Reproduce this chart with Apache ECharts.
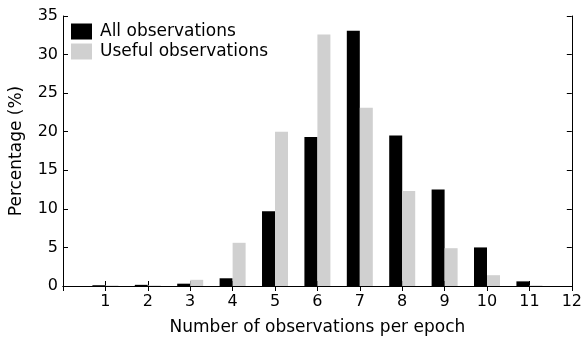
<!DOCTYPE html>
<html>
<head>
<meta charset="utf-8">
<script src="https://cdn.jsdelivr.net/npm/echarts@6/dist/echarts.min.js"></script>
<style>
html, body { margin: 0; padding: 0; background: #fff; }
#chart { width: 585px; height: 341px; }
</style>
</head>
<body>
<div id="chart"></div>
<script>
// number of observations per epoch (0 only marks the axis start)
var categories = ['0', '1', '2', '3', '4', '5', '6', '7', '8', '9', '10', '11', '12'];
var allObs = [null, 0.1, 0.15, 0.3, 1.0, 9.7, 19.3, 33.1, 19.5, 12.5, 5.0, 0.6, null];
var usefulObs = [null, 0.08, 0.08, 0.8, 5.6, 20.0, 32.6, 23.1, 12.3, 4.9, 1.4, 0.08, null];
var yTicks = [0, 5, 10, 15, 20, 25, 30, 35];

var font = 'DejaVu Sans, Arial, sans-serif';
var chart = echarts.init(document.getElementById('chart'));

var axisLine = { show: true, lineStyle: { color: '#000', width: 1 } };
var tickIn = { show: true, inside: true, length: 5, lineStyle: { color: '#000' } };

var option = {
    backgroundColor: '#fff',
    animation: false,
    grid: { left: 63, right: 9, top: 16, bottom: 54 },
    legend: {
        left: 66,
        top: 18,
        orient: 'vertical',
        itemWidth: 21,
        itemHeight: 16,
        itemGap: 3,
        icon: 'rect',
        textStyle: { fontFamily: font, fontSize: 17, lineHeight: 17, color: '#000', padding: [0, 0, 0, 3] },
        data: ['All observations', 'Useful observations']
    },
    xAxis: [
        {
            type: 'category',
            data: categories,
            boundaryGap: false,
            name: 'Number of observations per epoch',
            nameLocation: 'middle',
            nameGap: 33,
            nameTextStyle: { fontFamily: font, fontSize: 17, color: '#000' },
            axisLine: axisLine,
            axisTick: { show: true, inside: true, length: 5, interval: 0, lineStyle: { color: '#000' } },
            axisLabel: {
                fontFamily: font, fontSize: 16, color: '#000', margin: 8, interval: 0,
                formatter: function (v) { return v === '0' ? '' : v; }
            },
            splitLine: { show: false }
        },
        {
            type: 'category',
            data: categories,
            boundaryGap: false,
            position: 'top',
            axisLine: axisLine,
            axisTick: { show: true, inside: true, length: 5, interval: 0, lineStyle: { color: '#000' } },
            axisLabel: { show: false },
            splitLine: { show: false }
        }
    ],
    yAxis: [
        {
            type: 'value',
            min: yTicks[0],
            max: yTicks[yTicks.length - 1],
            interval: 5,
            name: 'Percentage (%)',
            nameLocation: 'middle',
            nameGap: 38,
            nameTextStyle: { fontFamily: font, fontSize: 17, color: '#000' },
            axisLine: axisLine,
            axisTick: tickIn,
            axisLabel: { fontFamily: font, fontSize: 16, color: '#000', margin: 5 },
            splitLine: { show: false }
        },
        {
            type: 'value',
            min: yTicks[0],
            max: yTicks[yTicks.length - 1],
            interval: 5,
            position: 'right',
            axisLine: axisLine,
            axisTick: tickIn,
            axisLabel: { show: false },
            splitLine: { show: false }
        }
    ],
    series: [
        {
            name: 'All observations',
            type: 'bar',
            data: allObs,
            barWidth: 13,
            barGap: '0%',
            itemStyle: { color: '#000' }
        },
        {
            name: 'Useful observations',
            type: 'bar',
            data: usefulObs,
            barWidth: 13,
            barGap: '0%',
            itemStyle: { color: '#d0d0d0' }
        }
    ]
};
chart.setOption(option);
</script>
</body>
</html>
